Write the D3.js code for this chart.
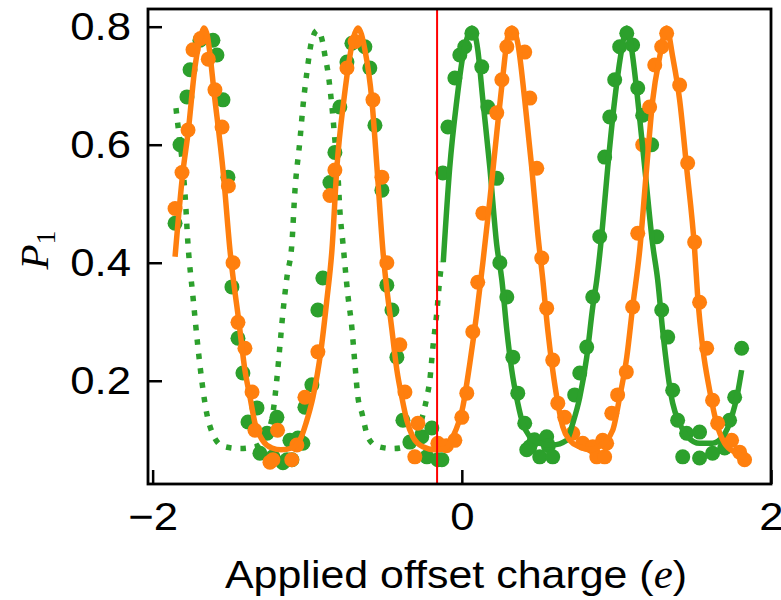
<!DOCTYPE html>
<html>
<head>
<meta charset="utf-8">
<script src="https://cdn.jsdelivr.net/npm/d3@7"></script>
<style>
  html, body { margin: 0; padding: 0; background: #fff; }
  svg { display: block; }
</style>
</head>
<body>
<svg id="chart" width="781" height="600"></svg>
<script>
// Measured excited-state population P1 versus applied offset charge.
const xTicks = [-2, 0, 2];
const yTicks = [0.2, 0.4, 0.6, 0.8];
const jumpCharge = -0.16;   // red marker where the offset charge jumps

// Orange measurement points [charge, P1]
const orangeData = [
  [-1.855,0.492],[-1.810,0.553],[-1.771,0.625],[-1.739,0.761],[-1.690,0.780],[-1.640,0.745],
  [-1.597,0.693],[-1.551,0.630],[-1.510,0.530],[-1.480,0.400],[-1.448,0.299],[-1.403,0.255],
  [-1.357,0.181],[-1.338,0.116],[-1.241,0.062],[-1.222,0.066],[-1.192,0.116],[-1.100,0.066],
  [-1.067,0.091],[-1.015,0.172],[-0.931,0.249],[-0.853,0.514],[-0.821,0.557],[-0.743,0.730],
  [-0.690,0.775],[-0.575,0.676],[-0.517,0.545],[-0.485,0.400],[-0.401,0.261],[-0.368,0.181],
  [-0.304,0.071],[-0.284,0.128],[-0.155,0.094],[-0.100,0.090],[-0.045,0.099],[0.000,0.138],
  [0.032,0.179],[0.071,0.283],[0.103,0.367],[0.136,0.484],[0.226,0.654],[0.259,0.710],
  [0.291,0.766],[0.323,0.789],[0.407,0.757],[0.440,0.679],[0.485,0.560],[0.517,0.408],
  [0.549,0.323],[0.588,0.235],[0.621,0.162],[0.666,0.138],[0.718,0.111],[0.782,0.094],
  [0.847,0.088],[0.873,0.071],[0.911,0.099],[0.924,0.071],[0.937,0.094],[0.970,0.145],
  [1.008,0.176],[1.064,0.215],[1.105,0.325],[1.138,0.450],[1.170,0.600],[1.215,0.664],
  [1.248,0.735],[1.293,0.766],[1.325,0.789],[1.409,0.701],[1.461,0.569],[1.506,0.435],
  [1.538,0.333],[1.584,0.255],[1.622,0.167],[1.655,0.128],[1.745,0.099],[1.797,0.079],
  [1.829,0.066]
];

// Green measurement points [charge, P1]
const greenData = [
  [-1.855,0.467],[-1.823,0.600],[-1.778,0.681],[-1.758,0.727],[-1.694,0.777],[-1.610,0.777],
  [-1.584,0.752],[-1.545,0.676],[-1.513,0.545],[-1.487,0.359],[-1.448,0.272],[-1.416,0.213],
  [-1.383,0.130],[-1.325,0.154],[-1.306,0.077],[-1.260,0.111],[-1.222,0.071],[-1.196,0.138],
  [-1.157,0.061],[-1.131,0.066],[-1.112,0.099],[-1.099,0.066],[-1.060,0.103],[-1.028,0.094],
  [-1.015,0.155],[-0.970,0.193],[-0.931,0.320],[-0.899,0.374],[-0.853,0.536],[-0.821,0.587],
  [-0.789,0.664],[-0.743,0.740],[-0.711,0.772],[-0.627,0.766],[-0.595,0.730],[-0.562,0.633],
  [-0.517,0.523],[-0.485,0.362],[-0.452,0.320],[-0.420,0.240],[-0.381,0.133],[-0.336,0.096],
  [-0.259,0.105],[-0.226,0.071],[-0.194,0.120],[-0.155,0.066],[-0.129,0.066],[-0.123,0.552],
  [-0.090,0.630],[-0.045,0.713],[-0.013,0.752],[0.019,0.766],[0.065,0.789],[0.129,0.732],
  [0.168,0.664],[0.226,0.543],[0.246,0.400],[0.291,0.342],[0.330,0.240],[0.362,0.179],
  [0.407,0.128],[0.420,0.083],[0.440,0.088],[0.470,0.100],[0.504,0.071],[0.549,0.105],
  [0.560,0.090],[0.588,0.071],[0.730,0.176],[0.763,0.213],[0.808,0.257],[0.847,0.342],
  [0.892,0.444],[0.924,0.579],[0.957,0.647],[0.989,0.710],[1.021,0.766],[1.067,0.789],
  [1.105,0.769],[1.138,0.696],[1.170,0.650],[1.228,0.600],[1.261,0.444],[1.293,0.320],
  [1.332,0.274],[1.364,0.184],[1.396,0.133],[1.429,0.071],[1.454,0.111],[1.538,0.113],
  [1.538,0.069],[1.622,0.077],[1.700,0.086],[1.732,0.133],[1.765,0.172],[1.810,0.255]
];

// Orange fitted curve
const orangeFit = [
  [-1.855,0.410],[-1.805,0.552],[-1.771,0.620],[-1.726,0.732],[-1.683,0.789],[-1.668,0.798],
  [-1.650,0.789],[-1.597,0.676],[-1.543,0.552],[-1.500,0.422],[-1.441,0.298],[-1.403,0.218],
  [-1.370,0.172],[-1.338,0.128],[-1.286,0.098],[-1.228,0.086],[-1.170,0.083],[-1.099,0.086],
  [-1.041,0.103],[-1.008,0.128],[-0.963,0.172],[-0.911,0.252],[-0.873,0.337],[-0.840,0.422],
  [-0.808,0.562],[-0.763,0.676],[-0.692,0.789],[-0.672,0.798],[-0.627,0.761],[-0.582,0.676],
  [-0.549,0.562],[-0.511,0.422],[-0.452,0.286],[-0.420,0.218],[-0.388,0.172],[-0.356,0.133],
  [-0.317,0.105],[-0.252,0.088],[-0.175,0.083],[-0.110,0.085],[-0.058,0.105],[0.006,0.155],
  [0.052,0.230],[0.097,0.315],[0.136,0.400],[0.181,0.506],[0.226,0.620],[0.265,0.715],
  [0.297,0.783],[0.323,0.798],[0.362,0.772],[0.407,0.676],[0.452,0.562],[0.491,0.450],
  [0.524,0.371],[0.556,0.286],[0.588,0.218],[0.621,0.162],[0.653,0.122],[0.698,0.099],
  [0.763,0.088],[0.827,0.083],[0.892,0.089],[0.976,0.116],[1.021,0.172],[1.067,0.240],
  [1.105,0.325],[1.151,0.422],[1.196,0.562],[1.235,0.676],[1.280,0.749],[1.325,0.798],
  [1.364,0.749],[1.409,0.676],[1.454,0.562],[1.506,0.422],[1.526,0.342],[1.558,0.257],
  [1.603,0.184],[1.648,0.128],[1.700,0.094],[1.778,0.077],[1.829,0.069]
];

// Green fitted curve after the jump
const greenFit = [
  [-0.120,0.401],[-0.078,0.562],[-0.032,0.676],[0.006,0.749],[0.045,0.789],[0.065,0.798],
  [0.084,0.789],[0.103,0.761],[0.136,0.676],[0.181,0.562],[0.226,0.430],[0.259,0.371],
  [0.291,0.286],[0.323,0.218],[0.362,0.162],[0.394,0.128],[0.440,0.105],[0.504,0.094],
  [0.588,0.091],[0.679,0.099],[0.718,0.128],[0.763,0.172],[0.808,0.240],[0.847,0.325],
  [0.873,0.371],[0.905,0.447],[0.944,0.562],[0.989,0.676],[1.034,0.761],[1.067,0.798],
  [1.099,0.761],[1.138,0.676],[1.183,0.562],[1.235,0.430],[1.267,0.371],[1.299,0.286],
  [1.332,0.213],[1.364,0.162],[1.409,0.128],[1.461,0.105],[1.538,0.094],[1.622,0.094],
  [1.687,0.105],[1.745,0.138],[1.784,0.179],[1.810,0.218]
];

// Green fitted curve carried back before the jump (dotted)
const greenFitBefore = [
  [-1.849,0.662],[-1.836,0.632],[-1.810,0.574],[-1.791,0.518],[-1.771,0.430],[-1.739,0.342],
  [-1.707,0.257],[-1.681,0.198],[-1.648,0.142],[-1.616,0.113],[-1.545,0.089],[-1.435,0.085],
  [-1.325,0.089],[-1.254,0.113],[-1.222,0.145],[-1.196,0.204],[-1.176,0.261],[-1.157,0.316],
  [-1.131,0.376],[-1.099,0.433],[-1.080,0.520],[-1.047,0.608],[-1.028,0.664],[-1.002,0.723],
  [-0.970,0.777],[-0.934,0.794],[-0.905,0.779],[-0.886,0.752],[-0.866,0.723],[-0.840,0.664],
  [-0.821,0.608],[-0.802,0.552],[-0.789,0.489],[-0.769,0.433],[-0.737,0.345],[-0.711,0.289],
  [-0.692,0.230],[-0.672,0.172],[-0.646,0.145],[-0.608,0.105],[-0.549,0.089],[-0.446,0.085],
  [-0.336,0.091],[-0.284,0.113],[-0.252,0.142],[-0.226,0.172],[-0.207,0.201],[-0.187,0.257],
  [-0.162,0.315],[-0.142,0.374],[-0.129,0.401]
];

const ORANGE = "#ff7f0e";
const GREEN = "#2ca02c";

const svg = d3.select("#chart");
const plot = { left: 148, top: 9, right: 771, bottom: 484 };

const x = d3.scaleLinear().domain([-2.03, 2.0]).range([plot.left, plot.right]);
const y = d3.scaleLinear().domain([0.025, 0.83]).range([plot.bottom, plot.top]);

const line = d3.line().x(d => x(d[0])).y(d => y(d[1])).curve(d3.curveMonotoneX);

svg.append("clipPath").attr("id", "plotclip")
  .append("rect")
  .attr("x", plot.left).attr("y", plot.top)
  .attr("width", plot.right - plot.left).attr("height", plot.bottom - plot.top);

const g = svg.append("g").attr("clip-path", "url(#plotclip)");

// dotted green extrapolation
g.append("path").datum(greenFitBefore)
  .attr("d", line).attr("fill", "none")
  .attr("stroke", GREEN).attr("stroke-width", 5.5)
  .attr("stroke-dasharray", "5.5 9");

// scatter
g.append("g").selectAll("circle").data(greenData).join("circle")
  .attr("cx", d => x(d[0])).attr("cy", d => y(d[1])).attr("r", 7.5)
  .attr("fill", GREEN);
g.append("g").selectAll("circle").data(orangeData).join("circle")
  .attr("cx", d => x(d[0])).attr("cy", d => y(d[1])).attr("r", 7.5)
  .attr("fill", ORANGE);

// fits
g.append("path").datum(greenFit)
  .attr("d", line).attr("fill", "none")
  .attr("stroke", GREEN).attr("stroke-width", 5.5)
  .attr("stroke-linejoin", "round");
g.append("path").datum(orangeFit)
  .attr("d", line).attr("fill", "none")
  .attr("stroke", ORANGE).attr("stroke-width", 5.5)
  .attr("stroke-linejoin", "round");

// jump marker
g.append("line")
  .attr("x1", x(jumpCharge)).attr("x2", x(jumpCharge))
  .attr("y1", plot.top).attr("y2", plot.bottom)
  .attr("stroke", "#ff0000").attr("stroke-width", 2);

// the sans text is set slightly wide
const WIDEN = 1.12;
function widen(sel, factor) {
  sel.each(function () {
    const w = this.getComputedTextLength();
    d3.select(this).attr("textLength", w * factor).attr("lengthAdjust", "spacingAndGlyphs");
  });
}

// axes
const font = "'Liberation Sans', Arial, Helvetica, sans-serif";
const xAxis = d3.axisBottom(x).tickValues(xTicks).tickFormat(d3.format("d"))
  .tickSizeInner(-14).tickSizeOuter(0).tickPadding(18);
const yAxis = d3.axisLeft(y).tickValues(yTicks).tickFormat(d3.format(".1f"))
  .tickSizeInner(-14).tickSizeOuter(0).tickPadding(17);

const gx = svg.append("g").attr("transform", `translate(0,${plot.bottom})`).call(xAxis);
const gy = svg.append("g").attr("transform", `translate(${plot.left},0)`).call(yAxis);
[gx, gy].forEach(a => {
  a.select(".domain").remove();
  a.selectAll(".tick line").attr("stroke", "#000").attr("stroke-width", 2.5);
  a.selectAll(".tick text").attr("fill", "#000")
    .style("font-family", font).style("font-size", "39px");
  widen(a.selectAll(".tick text"), WIDEN);
});

// frame
svg.append("rect")
  .attr("x", plot.left).attr("y", plot.top)
  .attr("width", plot.right - plot.left).attr("height", plot.bottom - plot.top)
  .attr("fill", "none").attr("stroke", "#000").attr("stroke-width", 2.8);

// axis labels
const xl = svg.append("text")
  .attr("x", 456).attr("y", 588)
  .attr("text-anchor", "middle")
  .style("font-family", font).style("font-size", "39px").attr("fill", "#000");
xl.append("tspan").text("Applied offset charge (");
xl.append("tspan").text("e").style("font-family", "'Liberation Serif', 'DejaVu Serif', serif")
  .style("font-style", "italic");
xl.append("tspan").text(")");
xl.attr("textLength", 462).attr("lengthAdjust", "spacingAndGlyphs");

const yl = svg.append("text")
  .attr("transform", "translate(48,250) rotate(-90)")
  .attr("text-anchor", "middle")
  .style("font-family", "'Liberation Serif', 'DejaVu Serif', serif")
  .style("font-size", "41px").attr("fill", "#000");
yl.append("tspan").text("P").style("font-style", "italic");
yl.append("tspan").text("1").attr("dy", 7).style("font-size", "28px");
</script>
</body>
</html>
